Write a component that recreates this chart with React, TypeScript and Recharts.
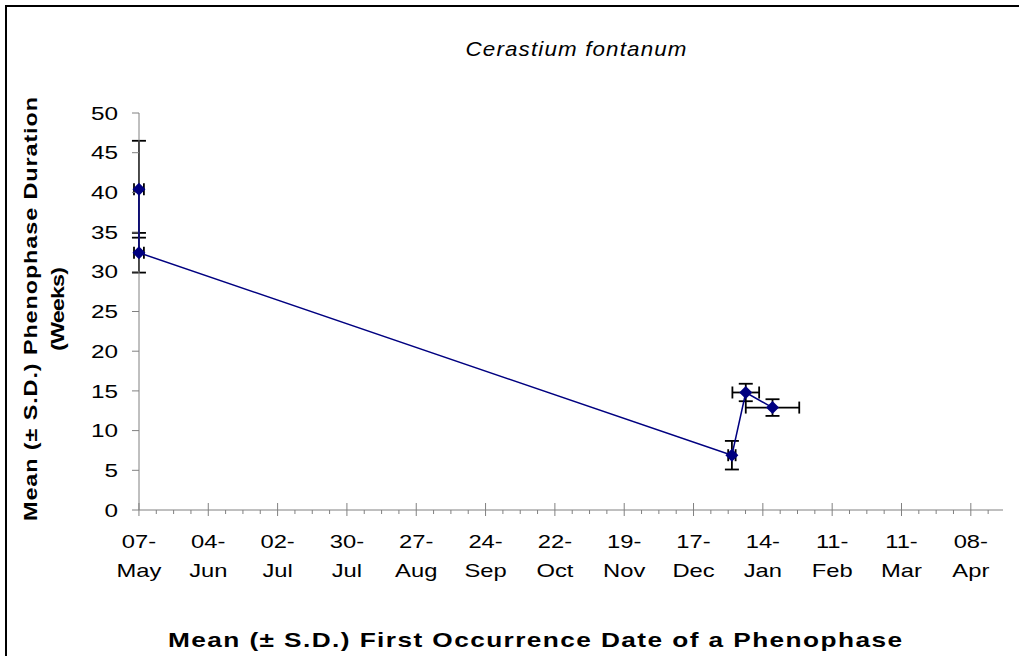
import React from "react";
import { ErrorBar, Scatter, ScatterChart, XAxis, YAxis } from "recharts";

// days counted from 07-May
const TICK_DAYS = [0, 28, 56, 84, 112, 140, 168, 196, 224, 252, 280, 308, 336];
const TICK_LABELS = [
  "07-May", "04-Jun", "02-Jul", "30-Jul", "27-Aug", "24-Sep", "22-Oct",
  "19-Nov", "17-Dec", "14-Jan", "11-Feb", "11-Mar", "08-Apr",
];
const WEEK_TICKS = [
  0, 7, 14, 21, 28, 35, 42, 49, 56, 63, 70, 77, 84, 91, 98, 105, 112, 119, 126,
  133, 140, 147, 154, 161, 168, 175, 182, 189, 196, 203, 210, 217, 224, 231,
  238, 245, 252, 259, 266, 273, 280, 287, 294, 301, 308, 315, 322, 329, 336, 343,
];
const Y_TICKS = [0, 5, 10, 15, 20, 25, 30, 35, 40, 45, 50];

const FIRST_DAY = [0, 0, 239.5, 245.1, 255.9];
const FIRST_DAY_SD = [2, 2, 1.5, 5.4, 10.8];
const DURATION = [40.4, 32.4, 6.9, 14.8, 12.9];
const DURATION_SD = [6.1, 2.5, 1.8, 1.1, 1.05];

const FONT = '"Liberation Sans", Arial, sans-serif';
const AXIS = "#808080";
const NAVY = "#000080";

const points = FIRST_DAY.map((day, i) => ({
  day,
  weeks: DURATION[i],
  dayErr: FIRST_DAY_SD[i],
  weeksErr: DURATION_SD[i],
}));

function DateTick({ x, y, payload }: any) {
  const idx = TICK_DAYS.indexOf(payload.value);
  if (idx < 0) {
    return <line x1={x} x2={x} y1={y} y2={y + 4} stroke={AXIS} />;
  }
  const [d, m] = TICK_LABELS[idx].split("-");
  return (
    <g>
      <line x1={x} x2={x} y1={y - 7} y2={y + 6} stroke={AXIS} />
      <text
        transform={`translate(${x},${y + 38}) scale(1.25,1)`}
        textAnchor="middle"
        fontFamily={FONT}
        fontSize={19}
        fill="#000"
      >
        {d}-
      </text>
      <text
        transform={`translate(${x},${y + 67}) scale(1.25,1)`}
        textAnchor="middle"
        fontFamily={FONT}
        fontSize={19}
        fill="#000"
      >
        {m}
      </text>
    </g>
  );
}

function ValueTick({ x, y, payload }: any) {
  return (
    <text
      transform={`translate(${x},${y}) scale(1.28,1)`}
      textAnchor="end"
      dy="0.35em"
      fontFamily={FONT}
      fontSize={19}
      fill="#000"
    >
      {payload.value}
    </text>
  );
}

function Diamond({ cx, cy }: any) {
  const r = 6.5;
  return (
    <polygon
      points={`${cx},${cy - r} ${cx + r},${cy} ${cx},${cy + r} ${cx - r},${cy}`}
      fill={NAVY}
    />
  );
}

function Caption({ x, y, rotate = 0, size, length, scale, bold, italic, children }: any) {
  return (
    <g transform={`translate(${x},${y}) rotate(${rotate}) scale(${scale},1)`}>
      <text
        textAnchor="middle"
        fontFamily={FONT}
        fontSize={size}
        fontWeight={bold ? "bold" : "normal"}
        fontStyle={italic ? "italic" : "normal"}
        textLength={length / scale}
        lengthAdjust="spacing"
        fill="#000"
      >
        {children}
      </text>
    </g>
  );
}

export default function App() {
  return (
    <div
      style={{
        position: "fixed",
        left: 0,
        top: 0,
        width: 1019,
        height: 656,
        background: "#fff",
        overflow: "hidden",
      }}
    >
      <div
        style={{
          position: "absolute",
          left: 5,
          top: 5,
          width: 1100,
          height: 800,
          border: "2px solid #000",
        }}
      />
      <div style={{ position: "absolute", left: 0, top: 0 }}>
        <ScatterChart
          width={1019}
          height={656}
          margin={{ top: 113, right: 16, bottom: 66, left: 79 }}
        >
          <XAxis
            type="number"
            dataKey="day"
            domain={[0, 349]}
            ticks={WEEK_TICKS}
            interval={0}
            padding={{ left: -5, right: 0 }}
            height={80}
            tickLine={false}
            tickSize={0}
            tickMargin={0}
            axisLine={{ stroke: AXIS }}
            tick={<DateTick />}
          />
          <YAxis
            type="number"
            dataKey="weeks"
            domain={[0, 50]}
            ticks={Y_TICKS}
            interval={0}
            width={60}
            tickSize={7}
            tickMargin={14}
            tickLine={{ stroke: AXIS }}
            axisLine={{ stroke: AXIS }}
            tick={<ValueTick />}
          />
          <Scatter
            data={points}
            fill={NAVY}
            line={{ stroke: NAVY, strokeWidth: 1.5 }}
            shape={<Diamond />}
            isAnimationActive={false}
          >
            <ErrorBar dataKey="dayErr" direction="x" width={6} stroke="#000" strokeWidth={1.8} />
            <ErrorBar dataKey="weeksErr" direction="y" width={7} stroke="#000" strokeWidth={1.8} />
          </Scatter>
        </ScatterChart>
      </div>
      <svg
        width={1019}
        height={656}
        style={{ position: "absolute", left: 0, top: 0, pointerEvents: "none" }}
      >
        <Caption x={576} y={56} size={20} length={221} scale={1.12} italic>
          Cerastium fontanum
        </Caption>
        <Caption x={535} y={647} size={21} length={734} scale={1.25} bold>
          Mean (± S.D.) First Occurrence Date of a Phenophase
        </Caption>
        <Caption x={37} y={309} rotate={-90} size={18} length={424} scale={1.3} bold>
          Mean (± S.D.) Phenophase Duration
        </Caption>
        <Caption x={64} y={309} rotate={-90} size={18} length={84} scale={1.3} bold>
          (Weeks)
        </Caption>
      </svg>
    </div>
  );
}
